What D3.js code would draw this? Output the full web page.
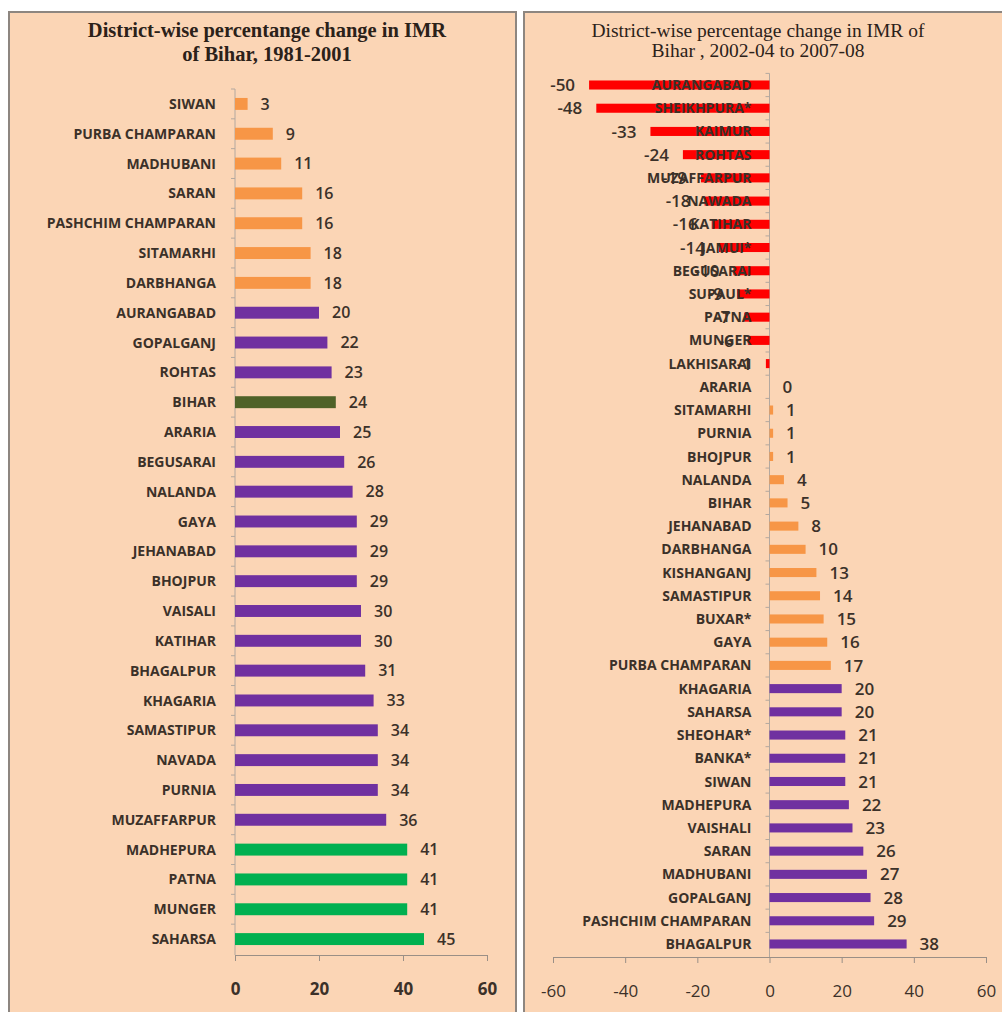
<!DOCTYPE html>
<html lang="en">
<head>
  <meta charset="UTF-8">
  <title>District-wise percentage change in IMR of Bihar</title>
  <script src="https://d3js.org/d3.v7.min.js"></script>
  <style>
    body { margin: 0; background: #fff; }
    svg { display: block; }
    .cat { font-family: 'Open Sans', sans-serif; font-weight: 700; font-size: 14px; fill: #3b3129; }
    .val { font-family: 'Open Sans', sans-serif; font-weight: 600; fill: #3b3129; }
    .title { font-family: 'Liberation Serif', 'Times New Roman', serif; fill: #2b2119; }
    .axis path, .axis line { stroke: #9a8f86; }
    .axis text { font-family: 'Open Sans', sans-serif; fill: #3b3129; }
  </style>
</head>
<body>
<svg id="chart" width="1002" height="1012"></svg>
<script>
// ---- data: 1981-2001 ----
const leftDistricts = ["SIWAN", "PURBA CHAMPARAN", "MADHUBANI", "SARAN", "PASHCHIM CHAMPARAN",
  "SITAMARHI", "DARBHANGA", "AURANGABAD", "GOPALGANJ", "ROHTAS", "BIHAR", "ARARIA", "BEGUSARAI",
  "NALANDA", "GAYA", "JEHANABAD", "BHOJPUR", "VAISALI", "KATIHAR", "BHAGALPUR", "KHAGARIA",
  "SAMASTIPUR", "NAVADA", "PURNIA", "MUZAFFARPUR", "MADHEPURA", "PATNA", "MUNGER", "SAHARSA"];
const leftValues = [3, 9, 11, 16, 16, 18, 18, 20, 22, 23, 24, 25, 26, 28, 29, 29, 29, 30, 30, 31,
  33, 34, 34, 34, 36, 41, 41, 41, 45];
const leftTicks = [0, 20, 40, 60];

// ---- data: 2002-04 to 2007-08 ----
const rightDistricts = ["AURANGABAD", "SHEIKHPURA*", "KAIMUR", "ROHTAS", "MUZAFFARPUR", "NAWADA",
  "KATIHAR", "JAMUI*", "BEGUSARAI", "SUPAUL*", "PATNA", "MUNGER", "LAKHISARAI", "ARARIA",
  "SITAMARHI", "PURNIA", "BHOJPUR", "NALANDA", "BIHAR", "JEHANABAD", "DARBHANGA", "KISHANGANJ",
  "SAMASTIPUR", "BUXAR*", "GAYA", "PURBA CHAMPARAN", "KHAGARIA", "SAHARSA", "SHEOHAR*", "BANKA*",
  "SIWAN", "MADHEPURA", "VAISHALI", "SARAN", "MADHUBANI", "GOPALGANJ", "PASHCHIM CHAMPARAN",
  "BHAGALPUR"];
const rightValues = [-50, -48, -33, -24, -19, -18, -16, -14, -10, -9, -7, -6, -1, 0, 1, 1, 1, 4, 5,
  8, 10, 13, 14, 15, 16, 17, 20, 20, 21, 21, 21, 22, 23, 26, 27, 28, 29, 38];
const rightTicks = [-60, -40, -20, 0, 20, 40, 60];

const peach = "#fbd5b5";
const svg = d3.select("#chart");

// panel frames
svg.append("rect").attr("x", 9).attr("y", 12).attr("width", 507).attr("height", 1020)
  .attr("fill", peach).attr("stroke", "#8d8680").attr("stroke-width", 2);
svg.append("rect").attr("x", 524).attr("y", 12).attr("width", 500).attr("height", 1020)
  .attr("fill", peach).attr("stroke", "#8d8680").attr("stroke-width", 2);

function drawPanel(opt) {
  const g = svg.append("g");
  const x = d3.scaleLinear().domain(opt.domain).range(opt.xRange);
  const y = d3.scaleBand().domain(opt.cats).range(opt.yRange)
    .paddingInner(opt.pad).paddingOuter(opt.pad / 2);
  const x0 = x(0);
  const data = opt.cats.map((c, i) => ({ name: c, value: opt.vals[i] }));

  // titles
  opt.title.forEach((t, i) => {
    g.append("text").attr("class", "title")
      .attr("x", opt.titleX).attr("y", opt.titleY[i])
      .attr("text-anchor", "middle")
      .attr("font-size", opt.titleSize)
      .attr("font-weight", opt.titleWeight)
      .text(t);
  });

  // category axis line + ticks between categories
  const gap = (y.step() - y.bandwidth()) / 2;
  g.append("line").attr("x1", x0).attr("x2", x0)
    .attr("y1", opt.yRange[0]).attr("y2", opt.axisY)
    .attr("stroke", "#b3a89f");
  g.selectAll(".ctick").data(opt.cats).join("line")
    .attr("x1", x0 - 4).attr("x2", x0)
    .attr("y1", d => y(d) - gap).attr("y2", d => y(d) - gap)
    .attr("stroke", "#b3a89f");

  // bars
  g.selectAll(".bar").data(data).join("rect")
    .attr("x", d => Math.min(x(d.value), x0))
    .attr("y", d => y(d.name))
    .attr("width", d => Math.abs(x(d.value) - x0))
    .attr("height", y.bandwidth())
    .attr("fill", d => opt.color(d));

  // category labels (drawn over the bars, as in the original)
  g.selectAll(".cat").data(data).join("text")
    .attr("class", "cat")
    .attr("x", x0 - opt.catGap)
    .attr("y", d => y(d.name) + y.bandwidth() / 2)
    .attr("dy", "0.36em")
    .attr("text-anchor", "end")
    .attr("fill", d => d.value < 0 && x(d.value) < x0 - opt.catGap - 10 ? "#5c1208" : null)
    .text(d => d.name);

  // value labels
  g.selectAll(".val").data(data).join("text")
    .attr("class", "val")
    .attr("font-size", opt.valSize)
    .attr("x", d => d.value < 0 ? x(d.value) - opt.negGap : x(d.value) + opt.valGap)
    .attr("y", d => y(d.name) + y.bandwidth() / 2)
    .attr("dy", "0.36em")
    .attr("text-anchor", d => d.value < 0 ? "end" : "start")
    .text(d => d.value);

  // value axis
  const ax = g.append("g").attr("class", "axis")
    .attr("transform", `translate(0,${opt.axisY})`)
    .call(d3.axisBottom(x).tickValues(opt.ticks).tickFormat(d => String(d))
      .tickSize(6).tickSizeOuter(0).tickPadding(opt.tickPad));
  ax.selectAll("text").attr("font-size", opt.tickSize).attr("font-weight", opt.tickWeight);
}

drawPanel({
  cats: leftDistricts, vals: leftValues, ticks: leftTicks,
  domain: [0, 60], xRange: [235, 487], yRange: [89, 954], pad: 0.6, axisY: 955,
  title: ["District-wise percentange change in IMR", "of Bihar, 1981-2001"],
  titleX: 267, titleY: [37, 61], titleSize: 20.5, titleWeight: 700,
  catGap: 19, valGap: 13, negGap: 14, valSize: 16, tickSize: 17, tickWeight: 700, tickPad: 22,
  color: d => d.name === "BIHAR" ? "#4f6228" : d.value < 20 ? "#f79646" : d.value < 40 ? "#7030a0" : "#00b050"
});

drawPanel({
  cats: rightDistricts, vals: rightValues, ticks: rightTicks,
  domain: [-60, 60], xRange: [553, 986], yRange: [73.4, 955.6], pad: 0.61, axisY: 957,
  title: ["District-wise percentage change in IMR of", "Bihar , 2002-04 to 2007-08"],
  titleX: 758, titleY: [37, 57], titleSize: 19.5, titleWeight: 400,
  catGap: 18, valGap: 13, negGap: 14, valSize: 17, tickSize: 17, tickWeight: 400, tickPad: 22,
  color: d => d.value < 0 ? "#ff0000" : d.value < 20 ? "#f79646" : "#7030a0"
});
</script>
</body>
</html>
